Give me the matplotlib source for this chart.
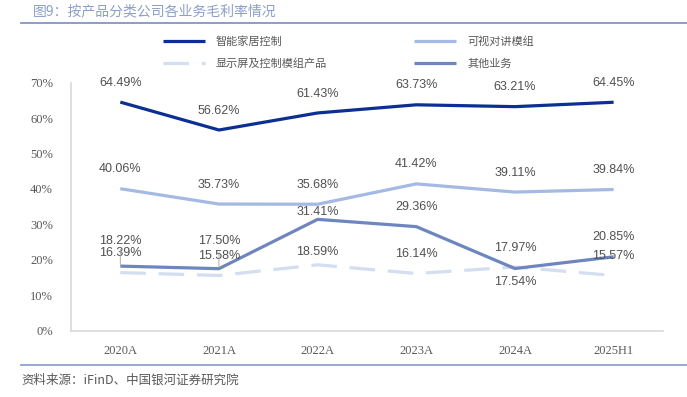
import matplotlib
matplotlib.use('Agg')
import matplotlib.pyplot as plt
from matplotlib.ticker import FuncFormatter

plt.rcParams['font.family'] = ['Noto Sans CJK SC', 'DejaVu Sans']

# 数据
years = ['2020A', '2021A', '2022A', '2023A', '2024A', '2025H1']
smart_home = [64.49, 56.62, 61.43, 63.73, 63.21, 64.45]
intercom = [40.06, 35.73, 35.68, 41.42, 39.11, 39.84]
display = [16.39, 15.58, 18.59, 16.14, 17.97, 15.57]
other = [18.22, 17.50, 31.41, 29.36, 17.54, 20.85]

names = ['智能家居控制', '可视对讲模组', '显示屏及控制模组产品', '其他业务']
colors = ['#0B2F93', '#A4B9E3', '#D3DEF1', '#6E86BE']

# 标签偏移（磅）
off_smart = [14, 14, 14, 14, 14, 14]
off_intercom = [14, 14, 14, 14, 14, 14]
off_display = [14, 14, 9.5, 14, 14, 14]
off_other = [18, 20, 5.5, 14, -10, 14]

fig = plt.figure(figsize=(6.87, 3.97), dpi=100)
ax = fig.add_axes([0.1033, 0.167, 0.8617, 0.625])

x = list(range(len(years)))
l1, = ax.plot(x, smart_home, color=colors[0], lw=2.3, solid_capstyle='butt')
l2, = ax.plot(x, intercom, color=colors[1], lw=2.3, solid_capstyle='butt')
l3, = ax.plot(x, display, color=colors[2], lw=2.3, dashes=(8, 4))
l4, = ax.plot(x, other, color=colors[3], lw=2.3, solid_capstyle='butt')

lab_font = dict(family=['Liberation Sans'], fontsize=9, color='#505050',
                ha='center', va='center')
for vals, offs in [(smart_home, off_smart), (intercom, off_intercom),
                   (display, off_display), (other, off_other)]:
    for i, v in enumerate(vals):
        ax.annotate('%.2f%%' % v, (i, v), xytext=(0, offs[i]),
                    textcoords='offset points', **lab_font)

# 引导线
for i in [0, 1]:
    ax.annotate('', (i, other[i]), xytext=(0, 12), textcoords='offset points',
                arrowprops=dict(arrowstyle='-', color='#A0A0A0', lw=0.6,
                                shrinkA=0, shrinkB=1))

ax.set_xlim(-0.5, len(years) - 0.5)
ax.set_ylim(0, 70)
ax.set_yticks(range(0, 71, 10))
ax.yaxis.set_major_formatter(FuncFormatter(lambda v, p: '%d%%' % v))
ax.set_xticks(x)
ax.set_xticklabels(years)
ax.tick_params(length=0, labelsize=9, labelcolor='#595959',
               labelfontfamily='Liberation Serif')
ax.tick_params(axis='y', pad=13)
ax.tick_params(axis='x', pad=10)
for s in ['top', 'right']:
    ax.spines[s].set_visible(False)
for s in ['left', 'bottom']:
    ax.spines[s].set_color('#D9D9D9')
    ax.spines[s].set_linewidth(1.2)

# 图例按行排列
leg = fig.legend([l1, l3, l2, l4], [names[0], names[2], names[1], names[3]],
                 loc='upper left', bbox_to_anchor=(0.222, 0.935), ncol=2,
                 frameon=False, handlelength=3.8, handletextpad=1.0,
                 columnspacing=7.8, labelspacing=1.05,
                 prop={'family': ['Noto Sans CJK SC'], 'size': 8})
for t in leg.get_texts():
    t.set_color('#595959')

# 标题与来源
fig.text(0.048, 0.971, '图9：按产品分类公司各业务毛利率情况', fontsize=10,
         color='#8C9FC8', va='center', ha='left')
fig.add_artist(plt.Line2D([0.030, 1.0], [0.941, 0.941], color='#8296C4',
                          lw=1.3, transform=fig.transFigure))
fig.add_artist(plt.Line2D([0.030, 1.0], [0.081, 0.081], color='#8FA3CD',
                          lw=1.3, transform=fig.transFigure))
fig.text(0.031, 0.043, '资料来源：iFinD、中国银河证券研究院', fontsize=9,
         color='#595959', va='center', ha='left', style='italic')

fig.savefig('out.png', dpi=100)
